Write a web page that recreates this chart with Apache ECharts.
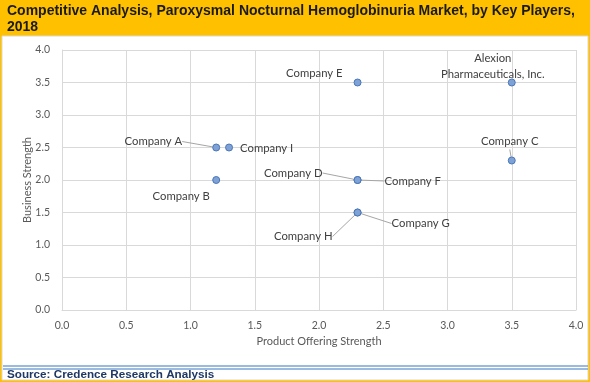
<!DOCTYPE html>
<html><head><meta charset="utf-8">
<script src="https://cdn.jsdelivr.net/npm/echarts@6/dist/echarts.min.js"></script>
<style>html,body{margin:0;padding:0;background:#fff}#c{width:590px;height:382px}</style>
</head><body><div id="c"></div>
<script>
// ---- data ----
const companies = ['Company A','Company I','Company B','Company E','Alexion\nPharmaceuticals, Inc.','Company C','Company D','Company F','Company G','Company H'];
const productOffering = [1.2, 1.3, 1.2, 2.3, 3.5, 3.5, 2.3, 2.3, 2.3, 2.3];
const businessStrength = [2.5, 2.5, 2.0, 3.5, 3.5, 2.3, 2.0, 2.0, 1.5, 1.5];
const xTicks = ['0.0','0.5','1.0','1.5','2.0','2.5','3.0','3.5','4.0'];
const yTicks = ['0.0','0.5','1.0','1.5','2.0','2.5','3.0','3.5','4.0'];
const titleText = 'Competitive Analysis, Paroxysmal Nocturnal Hemoglobinuria Market, by Key Players,\n2018';
const sourceText = 'Source: Credence Research Analysis';

// ---- label styling (offsets relative to each point) ----
const labelStyle = {
  'Company A': {pos:'left', dx:-25, dy:-6, line:true},
  'Company I': {pos:'right', dx:2, dy:1, line:false},
  'Company B': {pos:'bottom', dx:-35, dy:-1, line:false},
  'Company E': {pos:'left', dx:-6, dy:-9, line:false},
  'Alexion\nPharmaceuticals, Inc.': {pos:'top', dx:-19, dy:9, line:false},
  'Company C': {pos:'top', dx:-2, dy:-2, line:true},
  'Company D': {pos:'left', dx:-26, dy:-7, line:true},
  'Company F': {pos:'right', dx:18, dy:1, line:true},
  'Company G': {pos:'right', dx:25, dy:11, line:true},
  'Company H': {pos:'left', dx:-16, dy:24, line:true}
};

const data = companies.map((n,i)=>{
  const s = labelStyle[n];
  return {
    name: n,
    value: [productOffering[i], businessStrength[i]],
    label: {position: s.pos, distance: 5},
    labelLine: {show: s.line}
  };
});

const font = 'Lato, "Open Sans", sans-serif';
const chart = echarts.init(document.getElementById('c'), null, {renderer:'canvas'});
chart.setOption({
  animation: false,
  backgroundColor: '#FFC000',
  graphic: [
    {type:'rect', shape:{x:2,y:36,width:586,height:344}, style:{fill:'#fff', stroke:'#d9d9d9', lineWidth:1}, z:-10, silent:true},
    {type:'line', shape:{x1:3,y1:366,x2:588,y2:366}, style:{stroke:'#7aa3d6', lineWidth:1.5}, z:-5},
    {type:'line', shape:{x1:3,y1:369,x2:588,y2:369}, style:{stroke:'#7aa3d6', lineWidth:1.5}, z:-5},
    {type:'text', left:7, top:369, style:{text:sourceText, fill:'#1f3864', font:'bold 11.7px "Liberation Sans", Arial, sans-serif'}},
    {type:'text', left:7, top:3, style:{text:titleText, fill:'#1a1a1a', font:'bold 14px "Liberation Sans", Arial, sans-serif', lineHeight:16}}
  ],
  grid: {left:62, right:14, top:50, bottom:72},
  xAxis: {
    type:'value', min:0, max:4, interval:0.5,
    name:'Product Offering Strength', nameLocation:'middle', nameGap:24,
    nameTextStyle:{color:'#595959', fontSize:11, fontFamily:font},
    axisLine:{show:true, lineStyle:{color:'#d9d9d9'}},
    axisTick:{show:false},
    splitLine:{show:true, lineStyle:{color:'#d9d9d9'}},
    axisLabel:{color:'#595959', fontSize:10.5, fontFamily:font, margin:10,
      formatter:(v)=>xTicks[Math.round(v/0.5)]}
  },
  yAxis: {
    type:'value', min:0, max:4, interval:0.5,
    name:'Business Strength', nameLocation:'middle', nameGap:29, nameRotate:90,
    nameMoveOverlap:false,
    nameTextStyle:{color:'#595959', fontSize:11, fontFamily:font},
    axisLine:{show:true, lineStyle:{color:'#d9d9d9'}},
    axisTick:{show:false},
    splitLine:{show:true, lineStyle:{color:'#d9d9d9'}},
    axisLabel:{color:'#595959', fontSize:10.5, fontFamily:font, margin:12,
      formatter:(v)=>yTicks[Math.round(v/0.5)]}
  },
  series: [{
    type:'scatter',
    symbol:'circle', symbolSize:7,
    itemStyle:{color:'#7ea2d6', borderColor:'#4a76b8', borderWidth:1, opacity:1},
    label:{show:true, formatter:'{b}', color:'#404040', fontSize:11.3, fontFamily:font, lineHeight:16},
    labelLine:{show:true, lineStyle:{color:'#a6a6a6', width:1}},
    labelLayout: function(p){
      const s = labelStyle[companies[p.dataIndex]];
      return {dx:s.dx, dy:s.dy};
    },
    data: data
  }]
});
</script></body></html>
